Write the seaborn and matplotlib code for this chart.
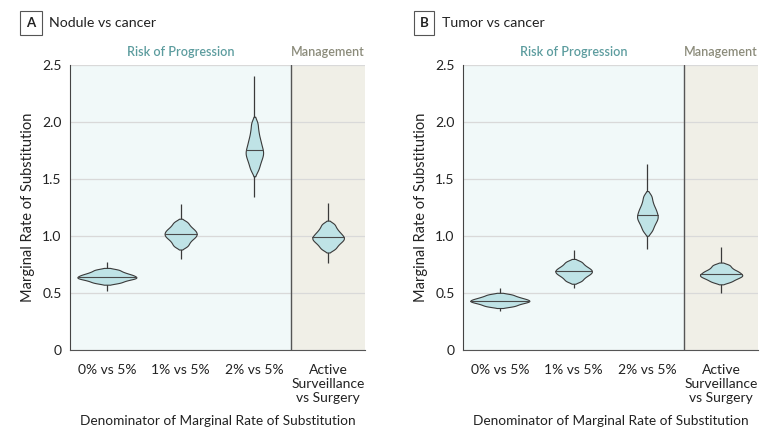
import numpy as np
import pandas as pd
import matplotlib
matplotlib.use("Agg")
import matplotlib.pyplot as plt
import seaborn as sns

# ---------------- data ----------------
categories = ["0% vs 5%", "1% vs 5%", "2% vs 5%", "Active Surveillance vs Surgery"]
tick_labels = ["0% vs 5%", "1% vs 5%", "2% vs 5%", "Active\nSurveillance\nvs Surgery"]

# Panel A: Nodule vs cancer - samples approximating the body of each violin
nodule_0 = [0.589, 0.605, 0.618, 0.627, 0.635, 0.643, 0.652, 0.661, 0.672, 0.686, 0.704]
nodule_1 = [0.911, 0.942, 0.968, 0.987, 1.003, 1.018, 1.033, 1.049, 1.067, 1.091, 1.122]
nodule_2 = [1.581, 1.632, 1.672, 1.703, 1.730, 1.754, 1.787, 1.823, 1.864, 1.920, 1.989]
nodule_mgmt = [0.886, 0.916, 0.940, 0.958, 0.974, 0.988, 1.004, 1.022, 1.043, 1.070, 1.104]
# full range (thin tails) of each violin
nodule_min = [0.52, 0.80, 1.345, 0.76]
nodule_max = [0.774, 1.28, 2.40, 1.29]

# Panel B: Tumor vs cancer
tumor_0 = [0.383, 0.397, 0.409, 0.418, 0.426, 0.433, 0.441, 0.449, 0.459, 0.471, 0.487]
tumor_1 = [0.605, 0.630, 0.650, 0.665, 0.678, 0.690, 0.702, 0.715, 0.730, 0.750, 0.775]
tumor_2 = [1.045, 1.086, 1.118, 1.143, 1.164, 1.184, 1.208, 1.233, 1.262, 1.302, 1.351]
tumor_mgmt = [0.597, 0.617, 0.632, 0.644, 0.654, 0.664, 0.676, 0.688, 0.702, 0.722, 0.746]
tumor_min = [0.345, 0.54, 0.886, 0.497]
tumor_max = [0.54, 0.877, 1.63, 0.906]

panel_letters = ["A", "B"]
panel_titles = ["Nodule vs cancer", "Tumor vs cancer"]
y_ticks = [0, 0.5, 1.0, 1.5, 2.0, 2.5]
y_tick_labels = ["0", "0.5", "1.0", "1.5", "2.0", "2.5"]


def long_frame(series):
    rows = []
    for cat, vals in zip(categories, series):
        for v in vals:
            rows.append({"comparison": cat, "mrs": v})
    return pd.DataFrame(rows)


panels = [
    (long_frame([nodule_0, nodule_1, nodule_2, nodule_mgmt]),
     pd.DataFrame({"comparison": categories, "lo": nodule_min, "hi": nodule_max})),
    (long_frame([tumor_0, tumor_1, tumor_2, tumor_mgmt]),
     pd.DataFrame({"comparison": categories, "lo": tumor_min, "hi": tumor_max})),
]

# ---------------- style ----------------
sns.set_style("white")
plt.rcParams["font.family"] = ["Lato", "DejaVu Sans"]

FILL = "#bfe3e6"
EDGE = "#3a3a3a"
BG_RISK = "#f1f9f9"
BG_MGMT = "#f0efe7"
GRID = "#d9d9d9"
TEAL = "#5c9c9e"
OLIVE = "#8b8b7a"
TXT = "#222222"

fig = plt.figure(figsize=(7.8, 4.36), dpi=100)
W, H = 780.0, 436.0
ax_left = [70, 463]
ax_w = 295
ax_bottom = 350
ax_top = 65

for i, (df, rng) in enumerate(panels):
    ax = fig.add_axes([ax_left[i] / W, 1 - ax_bottom / H, ax_w / W, (ax_bottom - ax_top) / H])
    ax.axvspan(-0.5, 2.5, color=BG_RISK, zorder=0, lw=0)
    ax.axvspan(2.5, 3.5, color=BG_MGMT, zorder=0, lw=0)
    ax.set_axisbelow(True)
    ax.yaxis.grid(True, color=GRID, lw=0.9)
    ax.xaxis.grid(False)

    # thin tails of each distribution
    pos = np.arange(len(categories))
    ax.vlines(pos, rng["lo"], rng["hi"], color=EDGE, lw=0.9, zorder=1.5)

    n0 = len(ax.collections)
    sns.violinplot(data=df, x="comparison", y="mrs", order=categories, ax=ax,
                   color=FILL, saturation=1, linecolor=EDGE, linewidth=0.8,
                   inner=None, cut=1.5, bw_adjust=0.5, density_norm="area",
                   width=0.8, zorder=2)

    # median lines across each violin body
    polys = ax.collections[n0:]
    for k, cat in enumerate(categories):
        med = float(np.median(df.loc[df["comparison"] == cat, "mrs"]))
        verts = polys[k].get_paths()[0].vertices
        left = verts[verts[:, 0] <= k]
        right = verts[verts[:, 0] >= k]
        lo = left[np.argsort(left[:, 1])]
        ro = right[np.argsort(right[:, 1])]
        xl = np.interp(med, lo[:, 1], lo[:, 0])
        xr = np.interp(med, ro[:, 1], ro[:, 0])
        ax.plot([xl, xr], [med, med], color="#4a4a4a", lw=0.8, zorder=3)

    ax.axvline(2.5, color="#555555", lw=1.0, zorder=4)

    ax.set_xlim(-0.5, 3.5)
    ax.set_ylim(0, 2.5)
    ax.set_yticks(y_ticks)
    ax.set_yticklabels(y_tick_labels)
    ax.set_xticks(range(len(categories)))
    ax.set_xticklabels(tick_labels, linespacing=1.2)
    ax.tick_params(axis="both", which="major", labelsize=10, colors="#444444",
                   labelcolor=TXT, length=4, width=0.8, direction="out")
    ax.tick_params(axis="x", pad=6)
    ax.tick_params(axis="y", pad=2)
    for s in ["top", "right"]:
        ax.spines[s].set_visible(False)
    ax.spines["left"].set_color("#444444")
    ax.spines["left"].set_linewidth(0.8)
    ax.spines["bottom"].set_color("#555555")
    ax.spines["bottom"].set_linewidth(0.8)

    ax.set_xlabel("Denominator of Marginal Rate of Substitution", fontsize=9.8,
                  color=TXT, labelpad=8)
    ax.set_ylabel("Marginal Rate of Substitution", fontsize=10.5, color=TXT, labelpad=5)

    # region headers
    ax.text(1, 2.56, "Risk of Progression", ha="center", va="bottom", fontsize=9,
            color=TEAL, fontweight="semibold", transform=ax.transData)
    ax.text(3, 2.56, "Management", ha="center", va="bottom", fontsize=9,
            color=OLIVE, fontweight="semibold", transform=ax.transData)

    # panel letter and title
    x0 = (ax_left[i] - 39) / W
    fig.text(x0, 1 - 23 / H, panel_letters[i], ha="center", va="center", fontsize=9.5,
             fontweight="bold", color=TXT,
             bbox=dict(boxstyle="square,pad=0.45", fc="white", ec="#555555", lw=0.8))
    fig.text(x0 + 18 / W, 1 - 23 / H, panel_titles[i], ha="left", va="center",
             fontsize=10.2, color=TXT)

fig.savefig("out.png", dpi=100)
